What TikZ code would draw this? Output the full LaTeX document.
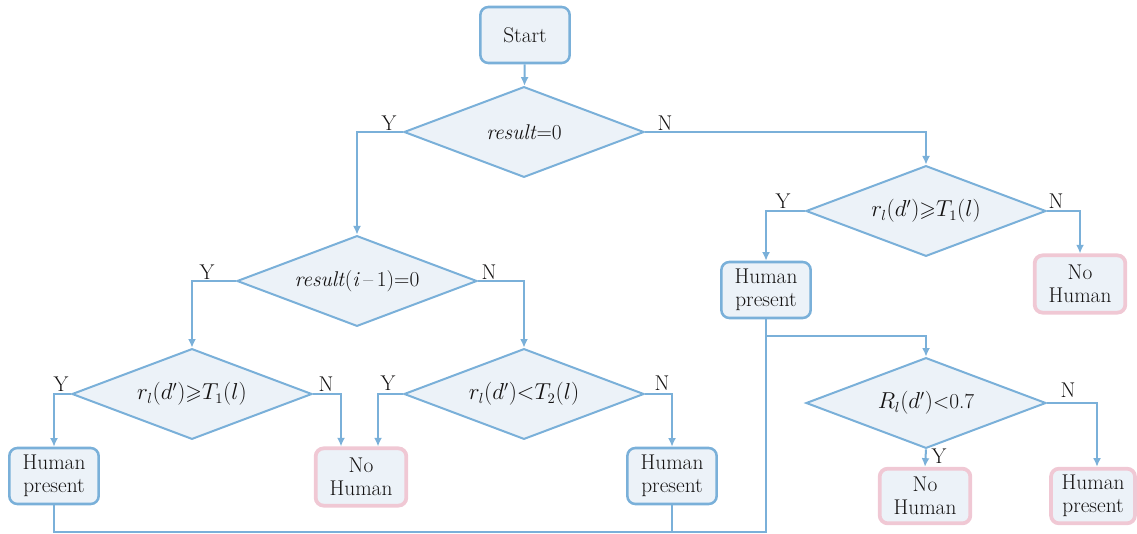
\documentclass[tikz,border=0pt]{standalone}
\usepackage{amssymb}
\usetikzlibrary{shapes.geometric,arrows.meta}
\definecolor{lineblue}{RGB}{122,176,217}
\definecolor{fillc}{RGB}{236,242,248}
\definecolor{pinkc}{RGB}{240,200,212}
\definecolor{txt}{RGB}{20,18,18}
\begin{document}
\begin{tikzpicture}[x=0.75pt,y=-0.75pt,
  every node/.style={text=txt},
  conn/.style={draw=lineblue,line width=1.5pt},
  arr/.style={conn,-{Latex[length=6.5pt,width=6pt]}},
  dec/.style={diamond,draw=lineblue,fill=fillc,line width=1.5pt,minimum width=180pt,minimum height=68pt,inner sep=0pt,aspect=2.65,font=\fontsize{16}{17}\selectfont},
  bbox/.style={rectangle,rounded corners=6pt,draw=lineblue,fill=fillc,line width=1.9pt,minimum width=67pt,minimum height=42pt,inner sep=1pt,align=center,font=\fontsize{16}{17}\selectfont},
  pbox/.style={bbox,draw=pinkc,line width=2.8pt},
  lab/.style={font=\fontsize{16}{17}\selectfont,inner sep=0pt}
]
\useasboundingbox (0,0) rectangle (1137,534);

\node[bbox] (start) at (525,35) {Start};
\node[dec] (d1) at (524,132) {\textit{result}=0};
\node[dec] (d2) at (357,281) {\textit{result}(\textit{i}\,--\,1)=0};
\node[dec] (d3) at (926,211) {$r_l(d')\mathord{\geqslant}T_1(l)$};
\node[dec] (d4) at (926,403) {$R_l(d')$<0.7};
\node[dec] (d5) at (192,394) {$r_l(d')\mathord{\geqslant}T_1(l)$};
\node[dec] (d6) at (524,394) {$r_l(d')\mathord{<}T_2(l)$};

\node[bbox] (hp1) at (54,476) {Human\\present};
\node[pbox,minimum width=68pt,minimum height=43pt] (nh1) at (361,477) {No\\Human};
\node[bbox] (hp2) at (672,476) {Human\\present};
\node[bbox] (hp3) at (766,290) {Human\\present};
\node[pbox,minimum width=68pt,minimum height=43pt] (nh2) at (1080,284) {No\\Human};
\node[pbox,minimum width=68pt,minimum height=41pt] (nh3) at (925,496) {No\\Human};
\node[pbox,minimum width=63pt,minimum height=41pt] (hp4) at (1093,496) {Human\\present};

\draw[arr] (start) -- (d1);
\draw[arr] (d1.west) -| (d2.north);
\draw[arr] (d1.east) -| (d3.north);
\draw[arr] (d3.west) -| (hp3.north);
\draw[arr] (d3.east) -| (nh2.north);
\draw[arr] (d2.west) -| (d5.north);
\draw[arr] (d2.east) -| (d6.north);
\draw[arr] (d5.west) -| (hp1.north);
\draw[arr] (d5.east) -| ([xshift=-15pt]nh1.north);
\draw[arr] (d6.west) -| ([xshift=12.75pt]nh1.north);
\draw[arr] (d6.east) -| (hp2.north);
\draw[arr] (d4.east) -| ([xshift=3pt]hp4.north);
\draw[arr] (d4.south) -- (nh3.north);

\coordinate (j1) at (766,336);
\coordinate (j2) at (766,532);
\draw[conn] (hp1.south) |- (j2) -- (hp3.south);
\draw[conn] (hp2.south) -- (hp2.south |- j2);
\draw[arr] (j1) -| (d4.north);

\node[lab] (y1) at (389,123) {Y};
\node[lab] (n1) at (665,123) {N};
\node[lab] (y3) at (783,201) {Y};
\node[lab] (n3) at (1056,201) {N};
\node[lab] (y2) at (207,272) {Y};
\node[lab] (n2) at (489,272) {N};
\node[lab] (y5) at (61,384) {Y};
\node[lab] (n5) at (326,384) {N};
\node[lab] (y6) at (388,383) {Y};
\node[lab] (n6) at (662,383) {N};
\node[lab] (n4) at (1068,390) {N};
\node[lab] (y4) at (939,456) {Y};
\end{tikzpicture}
\end{document}
